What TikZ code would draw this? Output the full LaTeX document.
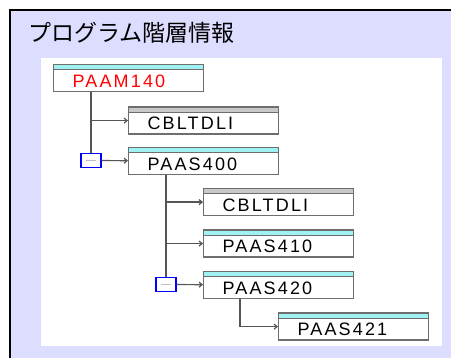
\documentclass[tikz,border=0pt]{standalone}
\usepackage{fontspec}
\usepackage{xcolor}
\usepackage{tikz}
\usetikzlibrary{arrows.meta}
\newfontfamily\jpfont{Noto Sans CJK JP}
\newfontfamily\boxfont[LetterSpace=12]{Liberation Sans}
\definecolor{framebg}{RGB}{221,221,255}
\definecolor{bandcyan}{RGB}{160,242,242}
\definecolor{bandgray}{RGB}{200,200,200}
\definecolor{boxline}{RGB}{110,110,110}
\definecolor{treeline}{RGB}{85,85,85}
\tikzset{pbox/.style={draw=boxline,line width=1.2pt,fill=white,inner xsep=19pt,inner ysep=0pt,
    text width=112pt,align=left,text height=22.9pt,text depth=4.1pt,anchor=north west,
    font=\boxfont\fontsize{18}{20}\selectfont,
    path picture={\fill[#1] (path picture bounding box.north west) rectangle ([yshift=-5pt]path picture bounding box.north east);
      \draw[boxline,line width=1pt] ([yshift=-5pt]path picture bounding box.north west) -- ([yshift=-5pt]path picture bounding box.north east);}},
  prog/.style={pbox=bandcyan},
  lib/.style={pbox=bandgray},
  tog/.style={draw=blue,line width=1.3pt,fill=white,minimum width=20pt,minimum height=14pt,inner sep=0pt,
    path picture={\draw[black!25,line width=1pt] ([xshift=-5pt]path picture bounding box.center) -- ([xshift=5pt]path picture bounding box.center);}},
  link/.style={draw=treeline,line width=1.2pt}}

\begin{document}
\begin{tikzpicture}[x=1pt,y=-1pt,>={Straight Barb[length=3pt,width=5pt]}]
        \useasboundingbox (0,0) rectangle (451,358);
        % frame
        \fill[white] (0,0) rectangle (451,358);
        \fill[framebg] (10,10) rectangle (451,358);
        \draw[line width=2pt] (10,358) -- (10,10) -- (451,10);
        \fill[white] (41,58) rectangle (442,346);
        \node[anchor=base west,inner sep=0pt,font=\jpfont\fontsize{23}{23}\selectfont] (title) at (28,42) {プログラム階層情報};

        \node[prog,text=red] (paam140) at (53,64) {PAAM140};
        \node[lib] (cbltdli1) at (128,106.5) {CBLTDLI};
        \node[prog] (paas400) at (128,147) {PAAS400};
        \node[lib] (cbltdli2) at (203,188) {CBLTDLI};
        \node[prog] (paas410) at (203,229.5) {PAAS410};
        \node[prog] (paas420) at (203,271) {PAAS420};
        \node[prog] (paas421) at (278,312.5) {PAAS421};
        \node[tog] (tog1) at (91,160.5) {};
        \node[tog] (tog2) at (166,284.5) {};

        \draw [link] (tog1 |- paam140.south) -- (tog1);
        \draw [link,->] (tog1 |- cbltdli1.west) -- (cbltdli1.west);
        \draw [link,->] (tog1) -- (paas400);
        \draw [link] (tog2 |- paas400.south) -- (tog2);
        \draw [link,->] (tog2 |- cbltdli2.west) -- (cbltdli2.west);
        \draw [link,->] (tog2 |- paas410.west) -- (paas410.west);
        \draw [link,->] (tog2) -- (paas420);
        \draw [link,->] ([xshift=37pt]paas420.south west) |- (paas421.west);
    \end{tikzpicture}
\end{document}
